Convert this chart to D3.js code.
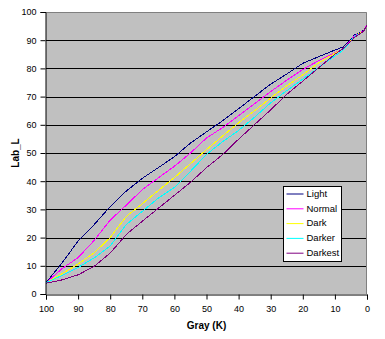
<!DOCTYPE html>
<html>
<head>
<meta charset="utf-8">
<script src="https://cdn.jsdelivr.net/npm/d3@7/dist/d3.min.js"></script>
<style>
  html, body { margin: 0; padding: 0; background: #fff; }
  svg { display: block; font-family: Arial, "Liberation Sans", sans-serif; }
</style>
</head>
<body>
<svg id="chart" width="385" height="339"></svg>
<script>
// Gray (K) input levels, read right-to-left on the axis
const grayK = [100, 95, 90, 85, 80, 75, 70, 65, 60, 55, 50, 45, 40, 35, 30, 25, 20, 15, 10, 7.5, 5, 4, 2, 1, 0];

// Measured Lab L* for each printing mode
const light   = [4, 11, 18.8, 24.6, 31, 36.5, 41, 44.8, 48.7, 53.5, 57.5, 61.4, 65.7, 70.1, 74.4, 78, 81.8, 84.2, 86.5, 87.6, 90.2, 91.8, 92.8, 93.6, 95.5];
const normal  = [4, 9, 12.9, 19, 26.2, 31.5, 37, 41.2, 45.3, 50, 55.3, 59, 63.2, 67.5, 71.8, 75.8, 79.6, 82.8, 85.6, 86.8, 89.9, 91.5, 92.7, 93.5, 95.4];
const dark    = [4, 7.2, 10.6, 14.6, 20, 27.5, 32, 36.7, 41.3, 46.2, 51.2, 56, 60.7, 65, 69.5, 73.8, 77.7, 82, 85.4, 86.9, 89.8, 91.3, 92.6, 93.4, 95.3];
const darker  = [4, 6.6, 9.4, 12.8, 17, 24.6, 29.3, 34, 37.8, 43.5, 49.5, 54, 58, 62.7, 67.8, 72.1, 76.2, 80.4, 84.4, 86.4, 89.7, 91.2, 92.5, 93.3, 95.3];
const darkest = [3.8, 5, 6.8, 9.8, 14.5, 21.1, 25.8, 30.4, 35, 39.6, 44.8, 49.4, 54.9, 60.1, 65.3, 70.8, 75.5, 80.3, 85, 87, 89.6, 91, 92.4, 93.3, 95.4];

const seriesNames  = ["Light", "Normal", "Dark", "Darker", "Darkest"];
const seriesValues = [light, normal, dark, darker, darkest];
const seriesColors = ["#000080", "#FF00FF", "#FFFF00", "#00FFFF", "#800080"];

const xTicks = [100, 90, 80, 70, 60, 50, 40, 30, 20, 10, 0];
const yTicks = [0, 10, 20, 30, 40, 50, 60, 70, 80, 90, 100];

const svg = d3.select("#chart");
const plot = { left: 46, top: 12, right: 367, bottom: 294 };

const x = d3.scaleLinear().domain([100, 0]).range([plot.left, plot.right]);
const y = d3.scaleLinear().domain([0, 100]).range([plot.bottom, plot.top]);

// plot area
svg.append("rect")
  .attr("x", plot.left).attr("y", plot.top)
  .attr("width", plot.right - plot.left).attr("height", plot.bottom - plot.top)
  .attr("fill", "#C0C0C0");

// horizontal gridlines
svg.append("g")
  .selectAll("line")
  .data(yTicks.filter(d => d > 0 && d < 100))
  .join("line")
  .attr("x1", plot.left).attr("x2", plot.right)
  .attr("y1", d => Math.round(y(d)) + 0.5).attr("y2", d => Math.round(y(d)) + 0.5)
  .attr("stroke", "#000").attr("stroke-width", 1);

// top and right frame
svg.append("path")
  .attr("d", `M${plot.left},${plot.top + 0.5}H${plot.right - 0.5}V${plot.bottom}`)
  .attr("fill", "none").attr("stroke", "#808080").attr("stroke-width", 1);

// series lines, drawn aliased like a classic spreadsheet chart
const line = d3.line()
  .x((d, i) => x(grayK[i]))
  .y(d => y(d));

svg.append("g")
  .selectAll("path")
  .data(seriesValues)
  .join("path")
  .attr("d", line)
  .attr("fill", "none")
  .attr("stroke", (d, i) => seriesColors[i])
  .attr("stroke-width", 1)
  .attr("shape-rendering", "crispEdges");

// axes
const xAxis = d3.axisBottom(x).tickValues(xTicks).tickSize(5).tickPadding(4).tickFormat(d3.format("d"));
const yAxis = d3.axisLeft(y).tickValues(yTicks).tickSize(5).tickPadding(4).tickFormat(d3.format("d"));

const gx = svg.append("g").attr("transform", `translate(0,${plot.bottom + 0.5})`).call(xAxis);
const gy = svg.append("g").attr("transform", `translate(${plot.left - 0.5},0)`).call(yAxis);

[gx, gy].forEach(g => {
  g.select(".domain").attr("stroke", "#000");
  g.selectAll(".tick line").attr("stroke", "#000");
  g.selectAll(".tick text").attr("fill", "#000").attr("font-size", 9)
    .attr("font-family", "Arial, 'Liberation Sans', sans-serif");
});
gx.selectAll(".tick text").attr("dy", "0.95em");

// axis titles
svg.append("text")
  .attr("x", (plot.left + plot.right) / 2).attr("y", 329)
  .attr("text-anchor", "middle")
  .attr("font-size", 10).attr("font-weight", "bold")
  .text("Gray (K)");

svg.append("text")
  .attr("transform", `translate(19,${(plot.top + plot.bottom) / 2}) rotate(-90)`)
  .attr("text-anchor", "middle")
  .attr("font-size", 10).attr("font-weight", "bold")
  .text("Lab_L");

// legend
const legend = svg.append("g").attr("transform", "translate(283.5,186.5)");
legend.append("rect")
  .attr("width", 58).attr("height", 75)
  .attr("fill", "#fff").attr("stroke", "#000");

const items = legend.selectAll("g.item")
  .data(seriesNames)
  .join("g")
  .attr("class", "item")
  .attr("transform", (d, i) => `translate(0,${7 + i * 14.8})`);

items.append("line")
  .attr("x1", 3).attr("x2", 20).attr("y1", 0.5).attr("y2", 0.5)
  .attr("stroke", (d, i) => seriesColors[i]).attr("stroke-width", 1);

items.append("text")
  .attr("x", 23).attr("y", 0).attr("dy", "0.35em")
  .attr("font-size", 9.5)
  .text(d => d);
</script>
</body>
</html>
